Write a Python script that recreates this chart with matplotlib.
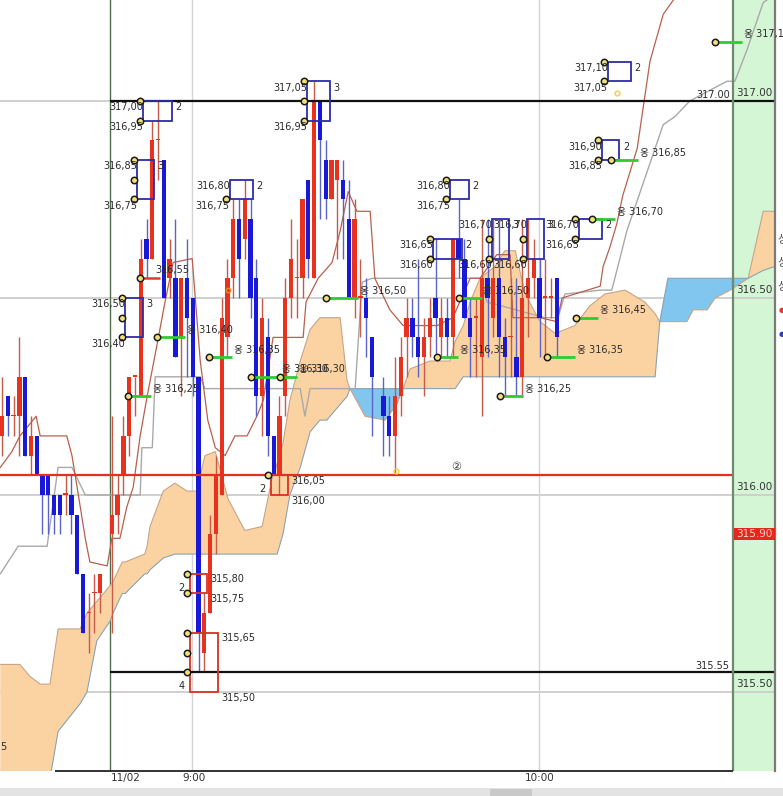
"""KOSPI200 futures 1-minute chart with ichimoku cloud and touch boxes."""

import matplotlib

matplotlib.use("Agg")
import matplotlib.pyplot as plt
import numpy as np
from matplotlib.patches import Rectangle

# ---- candles: bar index (1 bar = 1 minute, 9:00 sits at 32.9) ----
bar_idx = list(range(0, 18)) + list(range(19, 65)) + list(range(66, 97))
bar_open = [
    316.15, 316.25, 316.20, 316.20, 316.30, 316.10, 316.15, 316.05, 316.05, 316.00,
    316.00, 316.00, 316.00, 315.95, 315.80, 315.70, 315.75, 315.75,
    315.90, 315.95, 316.05, 316.15, 316.30, 316.25, 316.65, 316.60, 316.90, 316.85,
    316.55, 316.55, 316.40, 316.55, 316.50, 316.30, 315.60, 315.70, 315.90, 316.00,
    316.40, 316.55, 316.70, 316.65, 316.70, 316.55, 316.25, 316.40, 316.15, 316.05,
    316.25, 316.50, 316.55, 316.55, 316.80, 316.55, 317.00, 316.85, 316.75, 316.80,
    316.80, 316.70, 316.50, 316.50, 316.50, 316.40,
    316.25, 316.20, 316.15, 316.25, 316.40, 316.45, 316.40, 316.35, 316.40, 316.50,
    316.40, 316.45, 316.40, 316.65, 316.60, 316.45, 316.45, 316.35, 316.55, 316.45,
    316.55, 316.40, 316.40, 316.35, 316.30, 316.50, 316.55, 316.55, 316.50, 316.50,
    316.55,
]
bar_high = [
    316.30, 316.25, 316.25, 316.40, 316.30, 316.20, 316.15, 316.05, 316.05, 316.00,
    316.00, 316.05, 316.05, 315.95, 315.80, 315.75, 315.80, 315.80,
    316.20, 316.05, 316.20, 316.30, 316.30, 316.65, 316.70, 316.95, 317.00, 316.85,
    316.65, 316.70, 316.55, 316.65, 316.50, 316.30, 315.75, 315.95, 316.10, 316.50,
    316.60, 316.75, 316.75, 316.80, 316.75, 316.60, 316.50, 316.45, 316.15, 316.25,
    316.55, 316.70, 316.65, 316.75, 316.80, 317.05, 317.00, 316.90, 316.85, 316.85,
    316.85, 316.80, 316.75, 316.60, 316.55, 316.40,
    316.30, 316.25, 316.35, 316.40, 316.50, 316.50, 316.60, 316.45, 316.50, 316.65,
    316.50, 316.50, 316.65, 316.75, 316.65, 316.50, 316.50, 316.70, 316.70, 316.70,
    316.70, 316.45, 316.55, 316.55, 316.70, 316.70, 316.65, 316.60, 316.60, 316.55,
    316.55,
]
bar_low = [
    316.10, 316.15, 316.15, 316.10, 316.10, 316.05, 316.05, 315.90, 315.90, 315.90,
    315.90, 315.95, 315.90, 315.80, 315.65, 315.60, 315.65, 315.70,
    315.65, 315.90, 316.00, 316.10, 316.20, 316.25, 316.55, 316.60, 316.80, 316.50,
    316.50, 316.35, 316.25, 316.30, 316.25, 315.55, 315.55, 315.70, 315.85, 316.00,
    316.35, 316.50, 316.50, 316.60, 316.45, 316.20, 316.15, 316.10, 316.05, 316.00,
    316.20, 316.45, 316.45, 316.50, 316.55, 316.55, 316.70, 316.70, 316.75, 316.60,
    316.60, 316.50, 316.45, 316.40, 316.35, 316.15,
    316.10, 316.10, 316.05, 316.20, 316.30, 316.35, 316.30, 316.25, 316.35, 316.35,
    316.35, 316.35, 316.35, 316.55, 316.45, 316.30, 316.30, 316.20, 316.35, 316.40,
    316.30, 316.25, 316.30, 316.25, 316.25, 316.40, 316.50, 316.35, 316.35, 316.45,
    316.35,
]
bar_close = [
    316.20, 316.20, 316.20, 316.30, 316.10, 316.15, 316.05, 316.00, 316.00, 315.95,
    315.95, 316.00, 315.95, 315.80, 315.65, 315.70, 315.75, 315.80,
    315.95, 316.00, 316.15, 316.30, 316.30, 316.60, 316.60, 316.90, 316.90, 316.50,
    316.60, 316.35, 316.55, 316.45, 316.30, 315.65, 315.70, 315.90, 316.05, 316.45,
    316.55, 316.70, 316.60, 316.75, 316.50, 316.25, 316.45, 316.15, 316.05, 316.20,
    316.50, 316.60, 316.55, 316.75, 316.60, 317.00, 316.90, 316.75, 316.85, 316.85,
    316.75, 316.50, 316.70, 316.50, 316.45, 316.30,
    316.20, 316.15, 316.25, 316.35, 316.45, 316.40, 316.35, 316.40, 316.45, 316.45,
    316.45, 316.40, 316.65, 316.60, 316.45, 316.40, 316.45, 316.55, 316.50, 316.55,
    316.40, 316.35, 316.40, 316.30, 316.50, 316.55, 316.60, 316.45, 316.50, 316.50,
    316.40,
]

# ---- ichimoku cloud (two leading spans) ----
cloud_x = [
    -0.3, 3.1, 4.8, 6.6, 8.3, 9.7, 13.5, 14.7, 16.4, 18.7,
    19.2, 20.8, 21.3, 24.7, 25.1, 25.6, 27.9, 29.9, 32.0, 33.7,
    35.1, 36.9, 39.1, 42.0, 45.0, 46.7, 47.6, 48.6, 49.8, 51.6,
    53.3, 55.0, 56.2, 58.5, 59.7, 60.2, 62.8, 66.3, 68.3, 69.4,
    70.6, 74.0, 77.5, 78.4, 79.8, 81.0, 82.7, 85.3, 87.0, 88.8,
    90.5, 93.1, 95.7, 99.1, 101.7, 104.3, 107.8, 111.2, 113.0, 113.8,
    115.2, 118.5, 119.6, 122.0, 123.4, 126.0, 129.1, 131.7, 133.7,
]
span_a = [
    315.57, 315.57, 315.54, 315.52, 315.52, 315.66, 315.66, 315.70, 315.73, 315.77,
    315.78, 315.83, 315.83, 315.85, 315.87, 315.92, 316.01, 316.03, 316.01, 316.01,
    316.10, 316.11, 315.99, 315.91, 315.92, 316.04, 316.08, 316.13, 316.24, 316.34,
    316.42, 316.45, 316.45, 316.45, 316.29, 316.27, 316.20, 316.19, 316.23, 316.27,
    316.32, 316.34, 316.34, 316.39, 316.43, 316.49, 316.55, 316.58, 316.62, 316.62,
    316.51, 316.44, 316.41, 316.43, 316.48, 316.51, 316.52, 316.49, 316.46, 316.44,
    316.44, 316.44, 316.47, 316.47, 316.50, 316.52, 316.55, 316.72, 316.72,
]
span_b = [
    315.28, 315.28, 315.28, 315.28, 315.28, 315.40, 315.47, 315.50, 315.63, 315.68,
    315.70, 315.75, 315.75, 315.80, 315.80, 315.81, 315.84, 315.85, 315.85, 315.85,
    315.85, 315.85, 315.85, 315.85, 315.85, 315.85, 315.85, 315.90, 316.00, 316.07,
    316.16, 316.19, 316.19, 316.23, 316.25, 316.27, 316.27, 316.27, 316.27, 316.27,
    316.27, 316.27, 316.27, 316.27, 316.30, 316.30, 316.30, 316.30, 316.30, 316.30,
    316.30, 316.30, 316.30, 316.30, 316.30, 316.30, 316.30, 316.30, 316.30, 316.44,
    316.55, 316.55, 316.55, 316.55, 316.55, 316.55, 316.55, 316.57, 316.58,
]

# conversion line (brown) and base line (gray)
tenkan_x = [
    -0.3, 1.7, 3.1, 4.8, 5.9, 6.6, 11.2, 12.1, 13.1, 14.4,
    15.2, 18.2, 19.0, 20.4, 21.6, 22.7, 23.9, 25.1, 26.8, 28.2,
    29.6, 32.9, 34.3, 35.6, 36.9, 38.6, 40.3, 42.4, 44.1, 45.2,
    46.9, 52.1, 52.6, 54.7, 57.1, 58.5, 59.9, 61.4, 63.7, 64.5,
    67.1, 69.4, 75.3, 78.0, 81.0, 82.7, 85.6, 87.9, 88.4, 93.1,
    96.0, 96.9, 103.5, 104.0, 105.2, 106.4, 107.4, 109.9, 112.1, 114.4,
    117.3,
]
tenkan_y = [
    316.07, 316.11, 316.15, 316.18, 316.20, 316.15, 316.15, 316.10, 316.01, 315.89,
    315.83, 315.82, 315.89, 315.89, 315.97, 316.02, 316.15, 316.25, 316.38, 316.49,
    316.59, 316.60, 316.34, 316.19, 316.12, 316.10, 316.15, 316.15, 316.20, 316.24,
    316.40, 316.40, 316.49, 316.55, 316.59, 316.67, 316.77, 316.72, 316.72, 316.55,
    316.47, 316.43, 316.43, 316.45, 316.55, 316.55, 316.61, 316.61, 316.45, 316.45,
    316.44, 316.50, 316.53, 316.58, 316.63, 316.69, 316.76, 316.88, 317.10, 317.22,
    317.28,
]
kijun_x = [
    -0.3, 2.8, 7.8, 9.7, 12.1, 14.4, 23.9, 24.2, 26.0, 26.5,
    34.3, 35.1, 51.6, 52.4, 53.3, 61.1, 62.3, 64.0, 82.7, 83.9,
    93.9, 96.2, 97.4, 103.5, 105.5, 106.9, 108.1, 111.6, 114.4, 116.4,
    119.0, 125.4, 126.8, 128.9, 131.7, 133.7,
]
kijun_y = [
    315.80, 315.87, 315.87, 316.07, 316.07, 316.00, 316.00, 316.12, 316.12, 316.30,
    316.30, 316.27, 316.27, 316.20, 316.27, 316.27, 316.54, 316.55, 316.55, 316.49,
    316.45, 316.45, 316.51, 316.52, 316.52, 316.60, 316.67, 316.82, 316.94, 316.96,
    317.00, 317.05, 317.05, 317.13, 317.25, 317.27,
]

# ---- resistance boxes (blue) ----
box_x0 = [24.4, 23.4, 21.3, 39.4, 52.8, 77.5, 74.6, 84.8, 90.8, 99.8, 103.8, 104.8]
box_x1 = [29.4, 26.3, 24.4, 43.4, 56.8, 80.8, 79.6, 87.7, 93.8, 103.8, 106.8, 108.8]
box_hi = [317.00, 316.85, 316.50, 316.80, 317.05, 316.80, 316.65, 316.70, 316.70, 316.70, 316.90, 317.10]
box_lo = [316.95, 316.75, 316.40, 316.75, 316.95, 316.75, 316.60, 316.60, 316.60, 316.65, 316.85, 317.05]
box_count = [2, 3, 3, 2, 3, 2, 2, 3, 3, 2, 2, 2]
box_hits = [
    [317.00, 316.95], [316.85, 316.80, 316.75], [316.50, 316.45, 316.40], [316.75],
    [317.05, 317.00, 316.95], [316.80, 316.75], [316.65, 316.60], [316.65, 316.60],
    [316.65, 316.60], [316.70, 316.65], [316.90, 316.85], [317.10, 317.05],
]

# ---- support boxes (red) ----
rbox_x0 = [32.5, 32.5, 46.5]
rbox_x1 = [35.5, 37.4, 49.5]
rbox_hi = [315.80, 315.65, 316.05]
rbox_lo = [315.75, 315.50, 316.00]
rbox_count = [2, 4, 2]
rbox_hits = [[315.80, 315.75], [315.65, 315.60, 315.55], [316.05]]

# ---- green support ticks ----
seg_x0 = [21.8, 26.8, 35.8, 43.1, 48.1, 56.1, 75.3, 79.1, 86.2, 94.3, 99.3, 102.1, 105.4, 123.4]
seg_x1 = [25.8, 31.7, 39.8, 48.1, 51.0, 61.6, 78.9, 83.0, 90.1, 99.1, 103.1, 106.1, 110.0, 128.0]
seg_price = [316.25, 316.40, 316.35, 316.30, 316.30, 316.50, 316.35, 316.50, 316.25, 316.35,
             316.45, 316.70, 316.85, 317.15]

# ---- axis texts ----
time_grid = [32.9, 92.9]
time_labels = ["11/02", "9:00", "10:00"]
time_label_x = [18.8, 33.2, 93.1]
axis_prices = [317.00, 316.50, 316.00, 315.50]
last_price = 315.90
date_break = 18.7

# clipped legend panel on the far right (figure pixels from top)
legend_chars = ["상", "상", "상"]
legend_rows = [240, 263, 287]

X_LEFT, X_RIGHT = -0.35, 133.74
Y_BOTTOM, Y_TOP = 315.2995, 317.2563
PANEL_X = 126.47

RED = "#e8321e"
BLUE = "#1818d8"
NAVY = "#2c2ca8"


def price_text(p):
    return f"{p:.2f}".replace(".", ",")


def run():
    plt.rcParams["font.family"] = ["DejaVu Sans", "Noto Sans CJK KR"]
    fig = plt.figure(figsize=(7.83, 7.96), dpi=100)
    ax = fig.add_axes([0, 25 / 796, 775 / 783, 771 / 796])
    ax.set_xlim(X_LEFT, X_RIGHT)
    ax.set_ylim(Y_BOTTOM, Y_TOP)
    ax.axis("off")

    # price strip + grid
    ax.axvspan(PANEL_X, X_RIGHT, color="#d5f6d5", zorder=0)
    for p in axis_prices:
        ax.axhline(p, color="#cdcdcd", lw=1.3, zorder=1)
    for x in time_grid:
        ax.axvline(x, color="#d4d4d4", lw=1.0, zorder=1)
    ax.axvline(date_break, color="#4d6d4d", lw=1.0, zorder=1)
    ax.axvline(PANEL_X, color="#6d8a6d", lw=1.6, zorder=7)
    ax.axvline(X_RIGHT, color="#7a7a7a", lw=1.6, zorder=7, clip_on=False)

    # cloud
    a = np.array(span_a)
    b = np.array(span_b)
    ax.fill_between(cloud_x, a, b, where=a >= b, interpolate=True,
                    color="#fbd3a3", lw=0, zorder=2)
    ax.fill_between(cloud_x, a, b, where=a < b, interpolate=True,
                    color="#80c6ee", lw=0, zorder=2)
    ax.plot(cloud_x, span_a, color="#c8a487", lw=0.8, zorder=2.5)
    ax.plot(cloud_x, span_b, color="#8aa3b0", lw=0.8, zorder=2.5)

    ax.plot(kijun_x, kijun_y, color="#a9a9a9", lw=1.0, zorder=3)
    ax.plot(tenkan_x, tenkan_y, color="#b9604c", lw=0.9, zorder=3)

    # candles
    o = np.array(bar_open)
    c = np.array(bar_close)
    up = c >= o
    wick_col = np.where(up, "#c85a48", "#5a64c8")
    body_col = np.where(up, RED, BLUE)
    ax.vlines(bar_idx, bar_low, bar_high, colors=wick_col, lw=1.0, zorder=4)
    height = np.maximum(np.abs(c - o), 0.004)
    ax.bar(bar_idx, height, bottom=np.minimum(o, c), width=0.74,
           color=body_col, lw=0, zorder=5)

    # key levels
    ax.hlines(316.05, X_LEFT, PANEL_X, color="#e2321f", lw=1.6, zorder=6)
    ax.hlines([317.00, 315.55], date_break, X_RIGHT, color="#111111", lw=1.6, zorder=6)

    txt = dict(fontsize=7, color="#2a2a2a", zorder=10)
    marker = dict(ms=4.6, mfc="#f2e07a", mec="#1a1a1a", mew=1.1, zorder=9, ls="none")

    # resistance boxes
    for x0, x1, hi, lo, n, hits in zip(box_x0, box_x1, box_hi, box_lo, box_count, box_hits):
        ax.add_patch(Rectangle((x0, lo), x1 - x0, hi - lo, fill=False,
                               ec=NAVY, lw=1.3, zorder=8))
        ax.plot([x0 - 0.6] * len(hits), hits, "o", **marker)
        ax.text(x0, hi - 0.016, price_text(hi), ha="right", va="center", **txt)
        ax.text(x0, lo - 0.016, price_text(lo), ha="right", va="center", **txt)
        ax.text(x1 + 0.6, hi - 0.016, str(n), ha="left", va="center", **txt)

    # support boxes
    for x0, x1, hi, lo, n, hits in zip(rbox_x0, rbox_x1, rbox_hi, rbox_lo, rbox_count, rbox_hits):
        ax.add_patch(Rectangle((x0, lo), x1 - x0, hi - lo, fill=False,
                               ec="#d83222", lw=1.3, zorder=8))
        ax.plot([x0 - 0.5] * len(hits), hits, "o", **marker)
        ax.text(x1 + 0.5, hi - 0.014, price_text(hi), ha="left", va="center", **txt)
        ax.text(x1 + 0.5, lo - 0.014, price_text(lo), ha="left", va="center", **txt)
        ax.text(x0 - 0.9, lo + 0.014, str(n), ha="right", va="center", **txt)

    # green support ticks
    for x0, x1, p in zip(seg_x0, seg_x1, seg_price):
        ax.hlines(p, x0, x1, color="#2fcb2f", lw=2.0, zorder=8)
        ax.plot([x0], [p], "o", **marker)
        ax.text(x1 + 0.3, p + 0.019, "옹 " + price_text(p), ha="left", va="center",
                clip_on=False, **txt)

    # short red tick at 316.55
    ax.hlines(316.55, 23.9, 27.3, color="#e03a2a", lw=1.8, zorder=8)
    ax.plot([23.9], [316.55], "o", **marker)
    ax.text(26.6, 316.57, price_text(316.55), ha="left", va="center", **txt)

    # small signal dots
    ax.plot([68.2, 106.4], [316.06, 317.02], "o", ms=3.5, mfc="none", mec="#f0d040",
            mew=1.0, zorder=9)
    ax.plot([39.1], [316.52], "o", ms=3.2, mfc="none", mec="#f08a20", mew=1.0, zorder=9)
    ax.text(78.5, 316.07, "②", ha="center", va="center", fontsize=8, color="#333333",
            zorder=10)

    # level tags
    ax.text(125.9, 317.00 + 0.016, "317.00", ha="right", va="center", **txt)
    ax.text(125.9, 315.55 + 0.016, "315.55", ha="right", va="center", **txt)
    for p in axis_prices:
        ax.text(127.0, p + 0.02, f"{p:.2f}", ha="left", va="center", fontsize=7.5,
                color="#333333", zorder=10)
    ax.add_patch(Rectangle((PANEL_X + 0.2, last_price - 0.015), X_RIGHT - PANEL_X - 0.2,
                           0.03, color="#e6271a", lw=0, zorder=9))
    ax.text(127.0, last_price, f"{last_price:.2f}", ha="left", va="center",
            fontsize=7.5, color="#ffd2c8", zorder=10)
    ax.text(-0.3, 315.36, "5", ha="left", va="center", **txt)

    # time axis
    ax.hlines(Y_BOTTOM, 9.17, PANEL_X, color="#222222", lw=1.3, clip_on=False, zorder=7)
    aligns = ["left", "center", "center"]
    for x, lab, ha in zip(time_label_x, time_labels, aligns):
        ax.text(x, Y_BOTTOM - 0.018, lab, ha=ha, va="center", fontsize=7.5,
                color="#333333", clip_on=False)

    # cut-off legend panel at the right edge
    for ch, row in zip(legend_chars, legend_rows):
        fig.text(777 / 783, 1 - row / 796, ch, ha="left", va="center", fontsize=8,
                 color="#555555")
    fig.text(779 / 783, 1 - 310 / 796, "●", ha="left", va="center", fontsize=5,
             color="#e03a2a")
    fig.text(779 / 783, 1 - 334 / 796, "●", ha="left", va="center", fontsize=5,
             color="#3040c0")

    # scrollbar strip at the very bottom
    fig.add_artist(Rectangle((0, 0), 1, 8 / 796, transform=fig.transFigure,
                             color="#e3e3e3", lw=0))
    fig.add_artist(Rectangle((490 / 783, 0), 42 / 783, 7 / 796, transform=fig.transFigure,
                             color="#c9c9c9", lw=0))

    fig.savefig("out.png", dpi=100)
    plt.close(fig)
    print("Saved: out.png")


if __name__ == "__main__":
    run()
